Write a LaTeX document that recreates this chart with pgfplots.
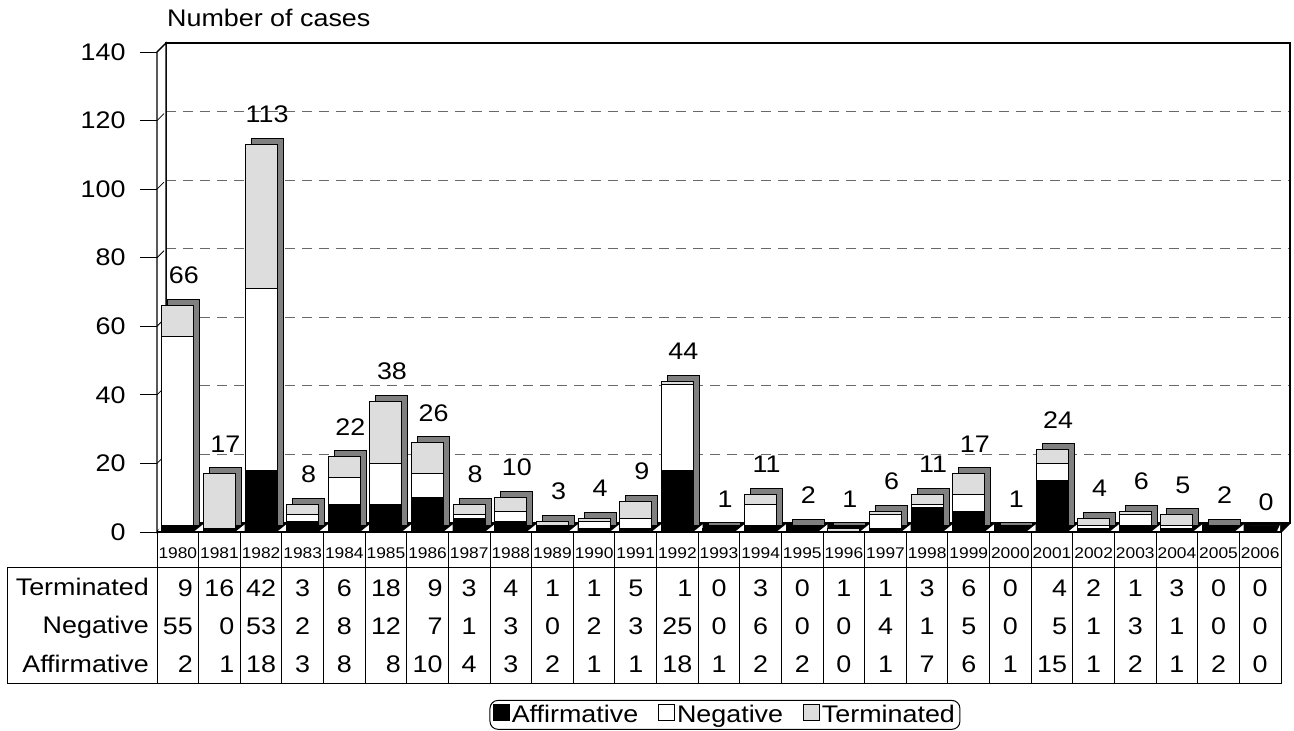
\documentclass[border=0pt]{standalone}
\usepackage{fontspec}
\setmainfont{Liberation Sans}[FakeStretch=1.12]
\usepackage{pgfplots}
\pgfplotsset{compat=1.18}
\usepackage{pgfplotstable}
\definecolor{termgray}{RGB}{221,221,221}
\definecolor{sidegray}{RGB}{128,128,128}
\definecolor{gridgray}{RGB}{105,105,105}
\pgfplotsset{/pgf/number format/assume math mode=true}

\pgfplotstableread{
i year A N T tot
0 1980 2 55 9 66
1 1981 1 0 16 17
2 1982 18 53 42 113
3 1983 3 2 3 8
4 1984 8 8 6 22
5 1985 8 12 18 38
6 1986 10 7 9 26
7 1987 4 1 3 8
8 1988 3 3 4 10
9 1989 2 0 1 3
10 1990 1 2 1 4
11 1991 1 3 5 9
12 1992 18 25 1 44
13 1993 1 0 0 1
14 1994 2 6 3 11
15 1995 2 0 0 2
16 1996 0 0 1 1
17 1997 1 4 1 6
18 1998 7 1 3 11
19 1999 6 5 6 17
20 2000 1 0 0 1
21 2001 15 5 4 24
22 2002 1 1 2 4
23 2003 2 3 1 6
24 2004 1 1 3 5
25 2005 2 0 0 2
26 2006 0 0 0 0
}\data

\newcommand{\fs}{\fontsize{24}{29}\selectfont}
\newcommand{\bigf}{\fontsize{24}{38}\selectfont}
\newcommand{\yr}{\fontsize{15.5}{17}\selectfont}
\newcommand{\col}[4]{\begin{tabular}{@{}c@{}}{\yr #1}\\\begin{tabular}[t]{@{}r@{}}#2\\#3\\#4\end{tabular}\end{tabular}}

\begin{document}
\begin{tikzpicture}[x=1pt,y=1pt]
\useasboundingbox (0,0) rectangle (1294,731);
% back plane with dashed grid
\begin{axis}[at={(166pt,208pt)}, anchor=south west, scale only axis,
  width=1124pt, height=480pt, xmin=-0.5, xmax=26.5, ymin=0, ymax=140,
  xtick=\empty, ytick={20,40,...,120}, yticklabels={}, ymajorgrids,
  major tick length=0pt,
  major grid style={gridgray, line width=1pt, dash pattern=on 10pt off 7pt},
  axis line style={line width=1.5pt}]
\addplot[draw=none] coordinates {(0,0)};
\end{axis}
% left wall
\draw[fill=white, line width=1.3pt] (157,199) -- (157,679) -- (166,688) -- (166,208) -- cycle;
\foreach \v in {0,...,7} \draw[line width=0.8pt] (157,199+\v*68.5714) -- ++(7,7);
% floor
\fill[black] (157,198) -- (1281,198) -- (1291,208) -- (166,208) -- cycle;
\foreach \k in {-1,...,26} {
  \pgfmathsetmacro{\xa}{\k<0 ? 158 : 157+41.63*(\k+0.5)+17}
  \pgfmathsetmacro{\xb}{\k>25 ? 1280 : 157+41.63*(\k+1.5)-16.5}
  \fill[white] (\xa,200) -- (\xb,200) -- (\xb,206.5) -- cycle;
}
% 3D depth of the bars
\begin{axis}[at={(163pt,205pt)}, anchor=south west, scale only axis,
  width=1124pt, height=480pt, xmin=-0.5, xmax=26.5, ymin=0, ymax=140,
  hide axis, clip=false, ybar, bar width=32pt,
  nodes near coords,
  every node near coord/.append style={font=\fs, anchor=south, inner sep=0pt, yshift=15pt, black}]
\addplot[fill=sidegray, draw=black, line width=1pt] table[x=i, y=tot]{\data};
\end{axis}
% front stacked bars and table
\begin{axis}[at={(157pt,199pt)}, anchor=south west, scale only axis,
  width=1124pt, height=480pt, xmin=-0.5, xmax=26.5, ymin=0, ymax=140,
  ybar stacked, bar width=32pt, clip=false,
  axis line style={draw=none},
  ytick={0,20,...,140}, ytick pos=left, tick align=outside,
  major tick length=17pt, ytick style={black, line width=0.9pt},
  yticklabel style={font=\fs, xshift=-11pt},
  xtick={0,...,26}, xtick style={draw=none},
  xticklabel style={anchor=north, inner sep=0pt, font=\bigf, yshift=17pt},
  xticklabels={{\col{1980}{9}{55}{2}},{\col{1981}{16}{0}{1}},{\col{1982}{42}{53}{18}},{\col{1983}{3}{2}{3}},{\col{1984}{6}{8}{8}},{\col{1985}{18}{12}{8}},{\col{1986}{9}{7}{10}},{\col{1987}{3}{1}{4}},{\col{1988}{4}{3}{3}},{\col{1989}{1}{0}{2}},{\col{1990}{1}{2}{1}},{\col{1991}{5}{3}{1}},{\col{1992}{1}{25}{18}},{\col{1993}{0}{0}{1}},{\col{1994}{3}{6}{2}},{\col{1995}{0}{0}{2}},{\col{1996}{1}{0}{0}},{\col{1997}{1}{4}{1}},{\col{1998}{3}{1}{7}},{\col{1999}{6}{5}{6}},{\col{2000}{0}{0}{1}},{\col{2001}{4}{5}{15}},{\col{2002}{2}{1}{1}},{\col{2003}{1}{3}{2}},{\col{2004}{3}{1}{1}},{\col{2005}{0}{0}{2}},{\col{2006}{0}{0}{0}}},
  legend columns=3,
  legend style={at={(0.5053,-0.381)}, anchor=center, draw=black, line width=1pt,
    rounded corners=8pt, font=\fs, inner sep=3pt,
    nodes={inner sep=2pt},
    /tikz/every even column/.append style={column sep=18pt}},
  legend image code/.code={\draw[#1, draw=black, line width=0.8pt, rounded corners=0pt] (0pt,-6pt) rectangle (16pt,10pt);},
  ]
\addplot[fill=black, draw=black, line width=1pt] table[x=i, y=A]{\data};
\addlegendentry{Affirmative}
\addplot[fill=white, draw=black, line width=1pt] table[x=i, y=N]{\data};
\addlegendentry{Negative}
\addplot[fill=termgray, draw=black, line width=1pt] table[x=i, y=T]{\data};
\addlegendentry{Terminated}
\end{axis}
% table grid
\foreach \k in {0,...,27} \draw[line width=1pt] (157+41.63*\k,199) -- (157+41.63*\k,47);
\draw[line width=1pt] (7,163) -- (1281,163);
\draw[line width=1pt] (7,47) -- (1281,47);
\draw[line width=1pt] (7,47) -- (7,163);
\draw[line width=1.5pt] (157,199) -- (1281,199);
\node[anchor=base east, inner sep=0pt, font=\fs] at (149,135) {Terminated};
\node[anchor=base east, inner sep=0pt, font=\fs] at (149,97) {Negative};
\node[anchor=base east, inner sep=0pt, font=\fs] at (149,58) {Affirmative};
\node[anchor=base west, inner sep=0pt, font=\fs] at (167,704) {Number of cases};
\end{tikzpicture}
\end{document}
